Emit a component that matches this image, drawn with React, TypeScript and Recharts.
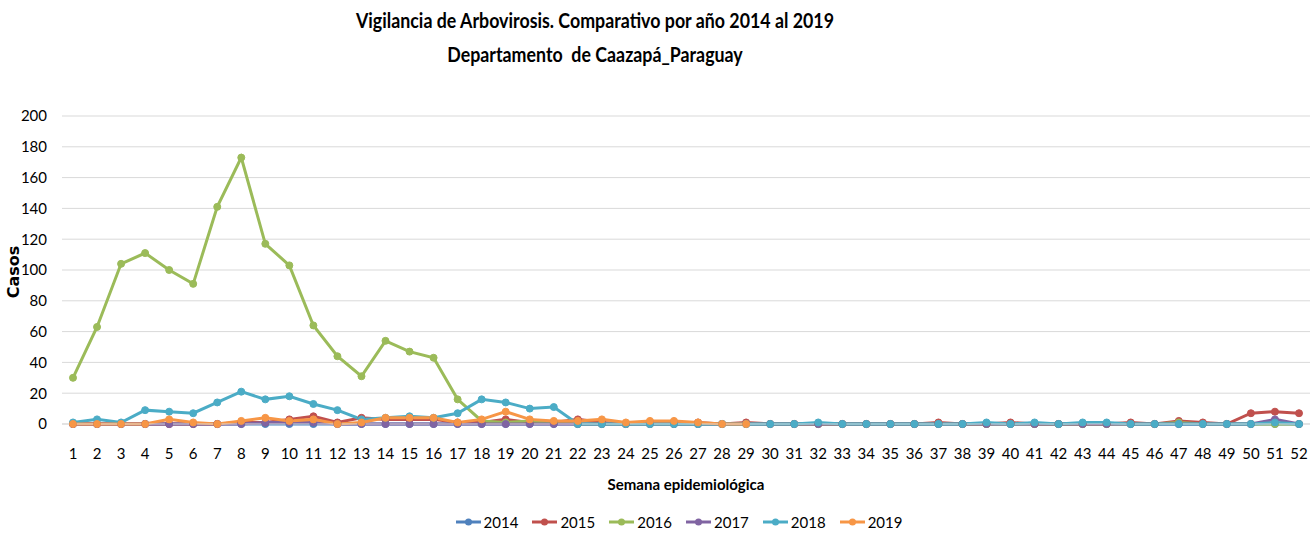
import { CartesianGrid, Legend, Line, LineChart, XAxis, YAxis } from "recharts"

const weeks = Array.from({ length: 52 }, (_, i) => String(i + 1))

const y2014 = [
  0, 0, 0, 0, 0, 0, 0, 0, 0, 0, 0, 0, 0, 0, 0, 0, 0, 0, 0, 0, 0, 0, 0, 0, 0, 0,
  0, 0, 0, 0, 0, 0, 0, 0, 0, 0, 0, 0, 0, 0, 0, 0, 0, 0, 0, 0, 0, 0, 0, 0, 0, 0,
]
const y2015 = [
  0, 0, 0, 0, 0, 0, 0, 1, 1, 3, 5, 1, 4, 3, 3, 3, 1, 1, 3, 1, 1, 3, 1, 0, 1, 1,
  1, 0, 1, 0, 0, 0, 0, 0, 0, 0, 1, 0, 0, 1, 0, 0, 0, 0, 1, 0, 2, 1, 0, 7, 8, 7,
]
const y2016 = [
  30, 63, 104, 111, 100, 91, 141, 173, 117, 103, 64, 44, 31, 54, 47, 43, 16, 2,
  1, 2, 1, 0, 0, 0, 0, 0, 0, 0, 0, 0, 0, 0, 0, 0, 0, 0, 0, 0, 0, 0, 0, 0, 0, 0,
  0, 0, 1, 0, 0, 0, 0, 0,
]
const y2017 = [
  0, 0, 0, 0, 0, 0, 0, 0, 1, 1, 1, 0, 0, 0, 0, 0, 0, 0, 0, 0, 0, 0, 0, 0, 0, 0,
  0, 0, 0, 0, 0, 0, 0, 0, 0, 0, 0, 0, 0, 0, 0, 0, 0, 0, 0, 0, 0, 0, 0, 0, 3, 0,
]
const y2018 = [
  1, 3, 1, 9, 8, 7, 14, 21, 16, 18, 13, 9, 3, 4, 5, 4, 7, 16, 14, 10, 11, 0, 0,
  0, 0, 0, 0, 0, 0, 0, 0, 1, 0, 0, 0, 0, 0, 0, 1, 0, 1, 0, 1, 1, 0, 0, 0, 0, 0,
  0, 1, 0,
]
const y2019 = [
  0, 0, 0, 0, 3, 1, 0, 2, 4, 2, 3, 0, 1, 4, 4, 4, 1, 3, 8, 3, 2, 2, 3, 1, 2, 2,
  1, 0, 0,
]

const yTicks = [0, 20, 40, 60, 80, 100, 120, 140, 160, 180, 200]

const series = [
  { key: "2014", values: y2014, color: "#4F81BD" },
  { key: "2015", values: y2015, color: "#C0504D" },
  { key: "2016", values: y2016, color: "#9BBB59" },
  { key: "2017", values: y2017, color: "#8064A2" },
  { key: "2018", values: y2018, color: "#4BACC6" },
  { key: "2019", values: y2019, color: "#F79646" },
]

const data = weeks.map((week, i) => {
  const row: Record<string, string | number | null> = { week }
  series.forEach((s) => {
    row[s.key] = i < s.values.length ? s.values[i] : null
  })
  return row
})

const FONT = 'Lato, "Open Sans", sans-serif'

function LegendContent() {
  return (
    <div style={{ display: "flex", justifyContent: "center", fontFamily: FONT, fontSize: 15, color: "#000" }}>
      {series.map((s) => (
        <div key={s.key} style={{ display: "flex", alignItems: "center", marginRight: 13 }}>
          <svg width={27} height={10}>
            <line x1={1} y1={5} x2={26} y2={5} stroke={s.color} strokeWidth={3} />
            <circle cx={13.5} cy={5} r={3.5} fill={s.color} />
          </svg>
          <span style={{ marginLeft: 2 }}>{s.key}</span>
        </div>
      ))}
    </div>
  )
}

export default function App() {
  return (
    <div style={{ position: "fixed", left: 0, top: 0, width: 1314, height: 535, background: "#fff" }}>
      <div
        style={{
          position: "absolute",
          left: 0,
          top: 3,
          width: 1190,
          textAlign: "center",
          fontFamily: FONT,
          fontWeight: "bold",
          fontSize: 20,
          lineHeight: "34px",
          color: "#000",
          transform: "scaleX(0.89)",
          transformOrigin: "595px 0",
        }}
      >
        <div>Vigilancia de Arbovirosis. Comparativo por año 2014 al 2019</div>
        <div>Departamento&nbsp; de Caazapá_Paraguay</div>
      </div>
      <div
        style={{
          position: "absolute",
          left: 13,
          top: 272,
          transform: "translate(-50%, -50%) rotate(-90deg)",
          fontFamily: '"DejaVu Sans", sans-serif',
          fontWeight: "bold",
          fontSize: 16,
          color: "#000",
          whiteSpace: "nowrap",
          zIndex: 2,
        }}
      >
        Casos
      </div>
      <LineChart width={1314} height={535} data={data} margin={{ top: 116, right: 4, left: 0, bottom: 0 }}>
        <CartesianGrid vertical={false} stroke="#d9d9d9" />
        <XAxis
          dataKey="week"
          interval={0}
          height={111}
          padding={{ left: 11, right: 11 }}
          tickLine={false}
          tickSize={0}
          tickMargin={24}
          axisLine={{ stroke: "#d9d9d9" }}
          tick={{ fill: "#000", fontSize: 15, fontFamily: FONT }}
          label={{
            value: "Semana epidemiológica",
            position: "insideBottom",
            offset: 45,
            fill: "#000",
            fontSize: 15,
            fontWeight: "bold",
            fontFamily: FONT,
          }}
        />
        <YAxis
          width={62}
          domain={[0, 200]}
          ticks={yTicks}
          interval={0}
          axisLine={false}
          tickLine={false}
          tickSize={0}
          tickMargin={15}
          tick={{ fill: "#000", fontSize: 15, fontFamily: FONT }}
        />
        <Legend
          verticalAlign="middle"
          align="center"
          content={<LegendContent />}
          wrapperStyle={{ top: 513, left: 0, width: 1370 }}
        />
        {series.map((s) => (
          <Line
            key={s.key}
            dataKey={s.key}
            stroke={s.color}
            strokeWidth={3}
            dot={{ r: 3.5, fill: s.color, stroke: s.color, strokeWidth: 1 }}
            activeDot={false}
            isAnimationActive={false}
            connectNulls={false}
          />
        ))}
      </LineChart>
    </div>
  )
}
